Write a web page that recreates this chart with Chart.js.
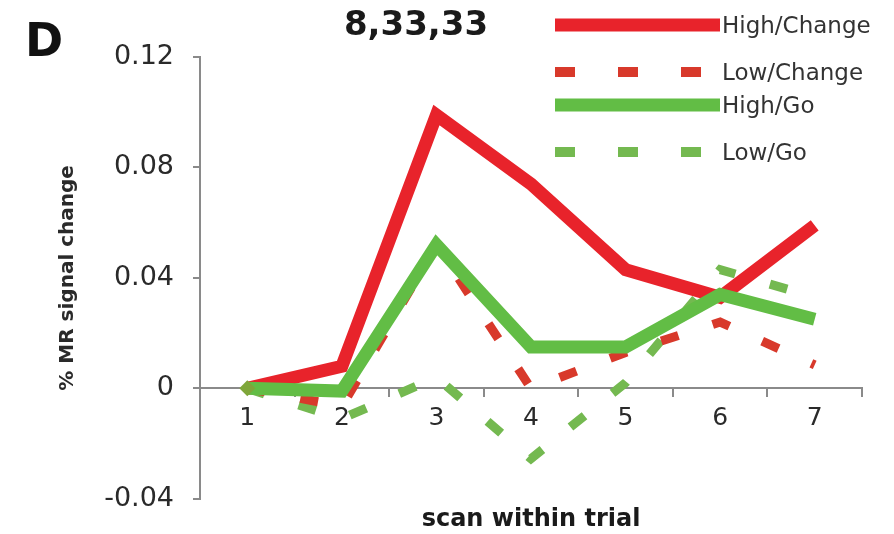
<!DOCTYPE html>
<html>
<head>
<meta charset="utf-8">
<script src="https://cdn.jsdelivr.net/npm/chart.js@4/dist/chart.umd.min.js"></script>
<style>
  html, body { margin: 0; padding: 0; background: #ffffff; }
  #wrap { width: 894px; height: 534px; }
</style>
</head>
<body>
<div id="wrap"><canvas id="c" width="894" height="534"></canvas></div>
<script>
// ---- data ----
const categories = ['1', '2', '3', '4', '5', '6', '7'];
const highChange = [0, 0.008, 0.099, 0.074, 0.043, 0.033, 0.059];
const lowChange  = [0, -0.0065, 0.052, 0.0, 0.013, 0.024, 0.0085];
const highGo     = [0, -0.001, 0.052, 0.015, 0.015, 0.034, 0.025];
const lowGo      = [0, -0.011, 0.004, -0.0255, 0.002, 0.043, 0.033];
const seriesNames = ['High/Change', 'Low/Change', 'High/Go', 'Low/Go'];
const yTickValues = [-0.04, 0, 0.04, 0.08, 0.12];
const yTickLabels = ['-0.04', '0', '0.04', '0.08', '0.12'];
const panelLetter = 'D';
const chartTitle = '8,33,33';
const xTitle = 'scan within trial';
const yTitle = '% MR signal change';

const RED = '#e8232b';
const RED_D = '#d8392b';
const GREEN = '#62bd45';
const GREEN_D = '#74b950';
const AXIS = '#8a8a8a';
const TXT = '#2a2a2a';

const legendRows = [
  { color: RED, dash: [], width: 13, y: 25 },
  { color: RED_D, dash: [20, 43], width: 10, y: 72 },
  { color: GREEN, dash: [], width: 13, y: 105 },
  { color: GREEN_D, dash: [20, 43], width: 10, y: 152 }
];

const decorPlugin = {
  id: 'decor',
  afterDraw(chart) {
    const ctx = chart.ctx;
    const area = chart.chartArea;
    ctx.save();
    ctx.fillStyle = '#111';
    ctx.font = 'bold 46px "DejaVu Sans"';
    ctx.textAlign = 'left';
    ctx.textBaseline = 'middle';
    ctx.fillText(panelLetter, 25, 44);
    ctx.font = 'bold 34px "DejaVu Sans"';
    ctx.textAlign = 'center';
    ctx.fillStyle = '#1a1a1a';
    ctx.fillText(chartTitle, 416, 26);
    ctx.font = 'bold 24px "DejaVu Sans"';
    ctx.fillStyle = '#1a1a1a';
    ctx.fillText(xTitle, (area.left + area.right) / 2, 520);
    chart.data.datasets.forEach((ds, i) => {
      const r = legendRows[i];
      ctx.beginPath();
      ctx.setLineDash(r.dash);
      ctx.lineWidth = r.width;
      ctx.strokeStyle = r.color;
      ctx.lineCap = 'butt';
      ctx.moveTo(555, r.y);
      ctx.lineTo(720, r.y);
      ctx.stroke();
      ctx.setLineDash([]);
      ctx.font = '23px "DejaVu Sans"';
      ctx.fillStyle = '#333';
      ctx.textAlign = 'left';
      ctx.textBaseline = 'middle';
      ctx.fillText(ds.label, 722, r.y + 2);
    });
    ctx.restore();
  }
};

const common = { fill: false, tension: 0, borderJoinStyle: 'miter', borderCapStyle: 'butt', clip: false };

new Chart(document.getElementById('c'), {
  type: 'line',
  data: {
    labels: categories,
    datasets: [
      Object.assign({ label: seriesNames[0], data: highChange, borderColor: RED, backgroundColor: RED,
        borderWidth: 13, pointRadius: 0, order: 1 }, common),
      Object.assign({ label: seriesNames[1], data: lowChange, borderColor: RED_D, backgroundColor: RED_D,
        borderWidth: 9, borderDash: [18, 36], pointRadius: 0, order: 2 }, common),
      Object.assign({ label: seriesNames[2], data: highGo, borderColor: GREEN, backgroundColor: GREEN,
        borderWidth: 13, pointRadius: [8, 0, 0, 0, 0, 0, 0], pointStyle: 'rectRot',
        pointBackgroundColor: '#7fa63a', pointBorderWidth: 0, order: 0 }, common),
      Object.assign({ label: seriesNames[3], data: lowGo, borderColor: GREEN_D, backgroundColor: GREEN_D,
        borderWidth: 9, borderDash: [18, 36], pointRadius: 0, order: 3 }, common)
    ]
  },
  options: {
    responsive: false,
    animation: false,
    devicePixelRatio: 1,
    layout: { padding: { left: 0, top: 57, right: 32, bottom: 31 } },
    plugins: { legend: { display: false }, tooltip: { enabled: false }, title: { display: false } },
    scales: {
      x: {
        type: 'category',
        position: { y: 0 },
        offset: true,
        grid: { display: true, drawOnChartArea: false, offset: true, tickLength: 8, color: AXIS, lineWidth: 2 },
        border: { display: true, color: AXIS, width: 2 },
        ticks: { color: TXT, font: { family: 'DejaVu Sans', size: 25 }, padding: 7, maxRotation: 0 }
      },
      y: {
        min: -0.04,
        max: 0.12,
        afterBuildTicks: (scale) => { scale.ticks = yTickValues.map(v => ({ value: v })); },
        afterFit: (scale) => { scale.width = 200; },
        grid: { display: true, drawOnChartArea: false, tickLength: 7, color: AXIS, lineWidth: 2 },
        border: { display: true, color: AXIS, width: 2 },
        ticks: {
          color: TXT,
          font: { family: 'DejaVu Sans', size: 27 },
          padding: 19,
          callback: (v) => {
            const i = yTickValues.findIndex(t => Math.abs(t - v) < 1e-9);
            return i >= 0 ? yTickLabels[i] : '';
          }
        },
        title: { display: true, text: yTitle, color: TXT,
          font: { family: 'DejaVu Sans', size: 20, weight: 'bold' }, padding: { top: 56, bottom: 0 } }
      }
    }
  },
  plugins: [decorPlugin]
});
</script>
</body>
</html>
